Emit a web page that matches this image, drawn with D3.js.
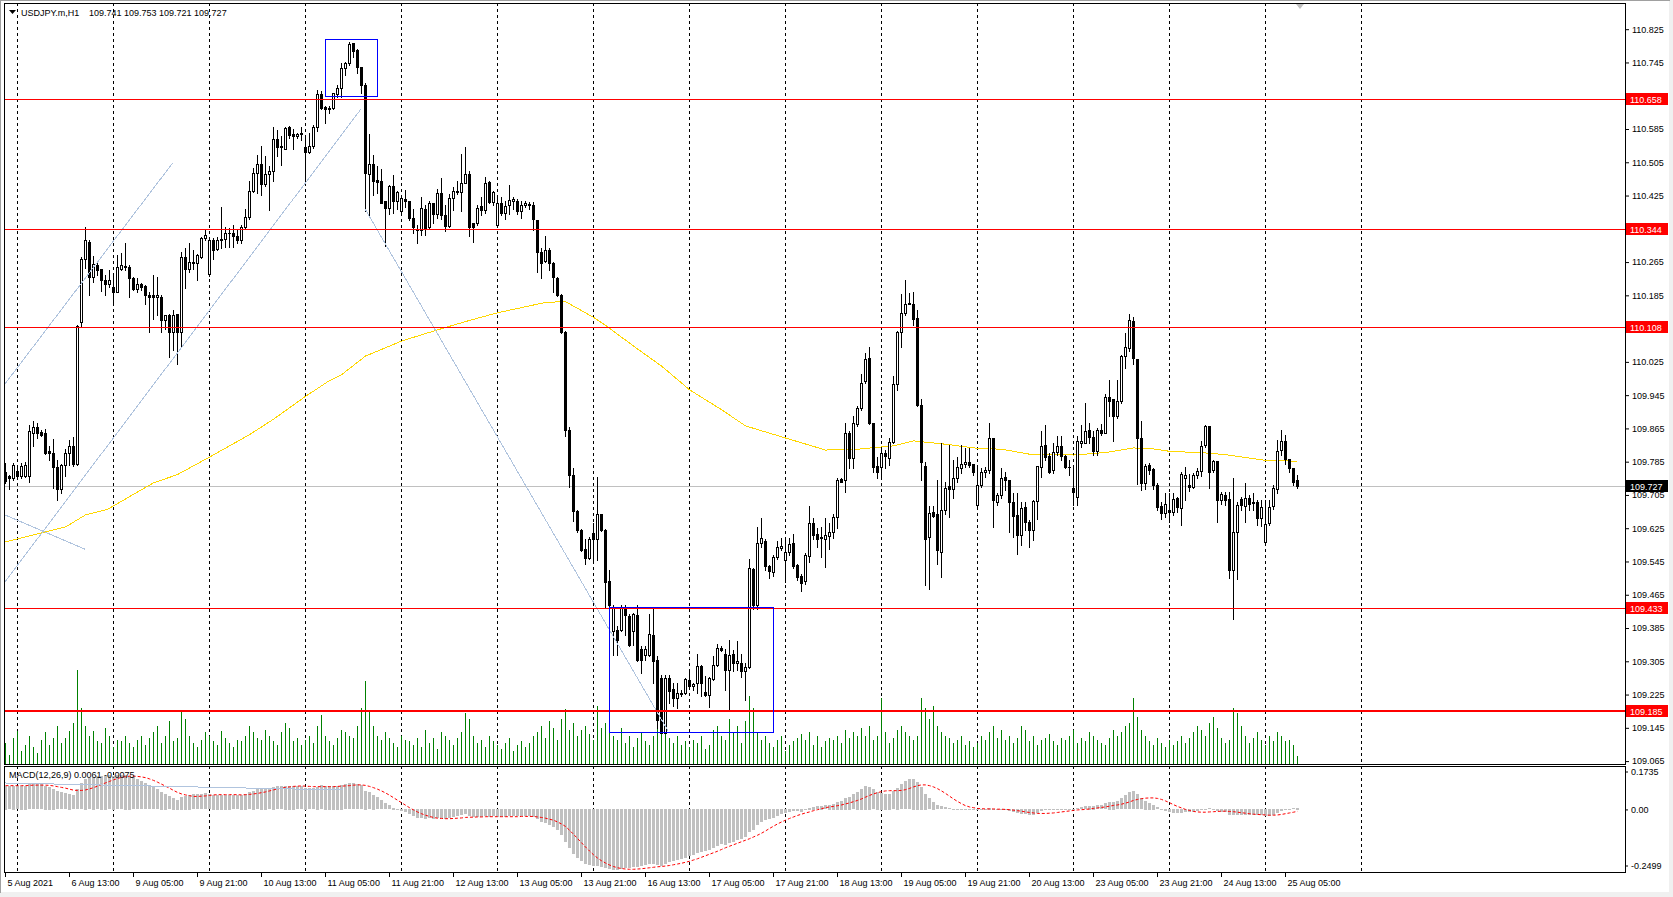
<!DOCTYPE html>
<html><head><meta charset="utf-8">
<script src="https://cdn.jsdelivr.net/npm/d3@7"></script>
<style>
html,body{margin:0;padding:0;background:#f0f0f0;}
svg{display:block;}
text{font-family:"Liberation Sans",Arial,sans-serif;font-size:9px;fill:#000;}
</style></head><body>
<svg id="c" width="1673" height="897"></svg>
<script>
// ---------------- DATA ----------------
const symbolText = "USDJPY.m,H1";
const quoteText = "109.741 109.753 109.721 109.727";
const macdText = "MACD(12,26,9) 0.0061 -0.0075";
const timeLabels = ["5 Aug 2021","6 Aug 13:00","9 Aug 05:00","9 Aug 21:00","10 Aug 13:00","11 Aug 05:00","11 Aug 21:00","12 Aug 13:00","13 Aug 05:00","13 Aug 21:00","16 Aug 13:00","17 Aug 05:00","17 Aug 21:00","18 Aug 13:00","19 Aug 05:00","19 Aug 21:00","20 Aug 13:00","23 Aug 05:00","23 Aug 21:00","24 Aug 13:00","25 Aug 05:00"];
const labelBars = [0,16,32,48,64,80,96,112,128,144,160,176,192,208,224,240,256,272,288,304,320];
const daySeparators = [3,27,51,75,99,123,147,171,195,219,243,267,291,315,339];
const priceTicks = [109.065,109.145,109.225,109.305,109.385,109.465,109.545,109.625,109.705,109.785,109.865,109.945,110.025,110.185,110.265,110.425,110.505,110.585,110.745,110.825];
const levelPrices = [110.658,110.344,110.108,109.433,109.185];
const bidPrice = 109.727;
const macdAxisValues = [0.1735,0,-0.2499];

const opens = [
109.759,109.750,109.746,109.762,109.750,109.751,109.750,109.855,109.868,109.856,
109.854,109.811,109.807,109.772,109.719,109.776,109.806,109.822,109.780,110.122,
110.272,110.314,110.229,110.258,110.248,110.222,110.213,110.206,110.194,110.248,
110.253,110.254,110.226,110.200,110.213,110.208,110.185,110.185,110.181,110.182,
110.126,110.138,110.098,110.141,110.098,110.278,110.249,110.262,110.262,110.278,
110.322,110.237,110.317,110.297,110.317,110.320,110.334,110.334,110.328,110.317,
110.350,110.373,110.435,110.480,110.500,110.453,110.476,110.483,110.560,110.544,
110.538,110.589,110.572,110.568,110.575,110.541,110.529,110.545,110.589,110.668,
110.637,110.635,110.635,110.669,110.683,110.731,110.743,110.791,110.775,110.733,
110.691,110.476,110.501,110.462,110.460,110.412,110.396,110.447,110.412,110.387,
110.417,110.412,110.371,110.345,110.341,110.393,110.349,110.408,110.381,110.431,
110.377,110.351,110.419,110.434,110.434,110.455,110.476,110.358,110.358,110.401,
110.390,110.457,110.409,110.355,110.408,110.384,110.403,110.412,110.412,110.387,
110.403,110.405,110.403,110.365,110.289,110.267,110.295,110.263,110.227,110.187,
110.096,109.861,109.752,109.667,109.621,109.576,109.553,109.614,109.600,109.659,
109.621,109.497,109.377,109.381,109.381,109.433,109.413,109.377,109.417,109.334,
109.321,109.321,109.369,109.307,109.265,109.133,109.265,109.238,109.217,109.229,
109.229,109.261,109.245,109.253,109.294,109.230,109.225,109.262,109.297,109.337,
109.323,109.285,109.323,109.301,109.301,109.281,109.291,109.527,109.440,109.589,
109.595,109.535,109.520,109.556,109.577,109.549,109.567,109.589,109.537,109.511,
109.497,109.557,109.637,109.611,109.604,109.599,109.607,109.617,109.653,109.743,
109.740,109.855,109.793,109.875,109.915,109.978,110.034,109.879,109.775,109.773,
109.805,109.793,109.833,109.972,110.098,110.143,110.163,110.164,110.130,109.922,
109.775,109.604,109.665,109.660,109.569,109.669,109.727,109.719,109.745,109.769,
109.780,109.785,109.779,109.681,109.729,109.759,109.765,109.841,109.687,109.705,
109.749,109.741,109.689,109.657,109.609,109.677,109.641,109.620,109.691,109.773,
109.826,109.799,109.764,109.809,109.823,109.799,109.773,109.721,109.701,109.831,
109.831,109.862,109.844,109.810,109.862,109.855,109.940,109.935,109.894,109.930,
110.038,110.058,110.124,110.031,109.842,109.733,109.778,109.767,109.729,109.679,
109.661,109.669,109.665,109.697,109.673,109.746,109.729,109.724,109.753,109.763,
109.824,109.870,109.764,109.787,109.694,109.705,109.695,109.524,109.617,109.695,
109.679,109.697,109.687,109.688,109.649,109.591,109.637,109.679,109.719,109.812,
109.835,109.791,109.770,109.741];
const highs = [
109.782,109.754,109.782,109.770,109.782,109.784,109.874,109.882,109.879,109.862,
109.863,109.823,109.839,109.790,109.780,109.815,109.838,109.844,110.114,110.278,
110.350,110.318,110.280,110.262,110.248,110.234,110.245,110.234,110.282,110.286,
110.310,110.258,110.230,110.226,110.214,110.210,110.194,110.233,110.230,110.186,
110.138,110.141,110.150,110.141,110.290,110.298,110.310,110.293,110.285,110.326,
110.345,110.322,110.322,110.326,110.397,110.349,110.348,110.354,110.344,110.353,
110.393,110.459,110.491,110.523,110.543,110.519,110.496,110.591,110.583,110.567,
110.591,110.592,110.585,110.575,110.591,110.565,110.575,110.595,110.679,110.677,
110.640,110.640,110.672,110.690,110.744,110.745,110.795,110.793,110.777,110.735,
110.695,110.574,110.523,110.495,110.488,110.412,110.450,110.474,110.436,110.422,
110.439,110.412,110.393,110.355,110.422,110.403,110.412,110.408,110.441,110.466,
110.403,110.428,110.446,110.460,110.526,110.542,110.484,110.360,110.403,110.422,
110.469,110.460,110.436,110.425,110.422,110.412,110.450,110.422,110.417,110.412,
110.412,110.410,110.409,110.365,110.298,110.327,110.298,110.265,110.229,110.189,
110.099,109.868,109.771,109.668,109.624,109.600,109.605,109.638,109.747,109.659,
109.624,109.524,109.441,109.390,109.441,109.441,109.419,109.421,109.441,109.341,
109.341,109.419,109.433,109.317,109.273,109.273,109.273,109.253,109.253,109.237,
109.265,109.286,109.253,109.323,109.297,109.270,109.267,109.317,109.347,109.341,
109.334,109.357,109.333,109.353,109.323,109.301,109.551,109.530,109.629,109.649,
109.600,109.537,109.560,109.595,109.601,109.605,109.601,109.611,109.540,109.515,
109.565,109.679,109.650,109.625,109.629,109.649,109.637,109.660,109.745,109.745,
109.878,109.858,109.894,109.920,109.996,110.046,110.060,109.879,109.797,109.817,
109.813,109.841,109.990,110.100,110.188,110.222,110.190,110.192,110.150,109.935,
109.785,109.679,109.679,109.741,109.829,109.737,109.825,109.789,109.797,109.825,
109.817,109.817,109.780,109.773,109.769,109.772,109.879,109.843,109.709,109.769,
109.761,109.741,109.709,109.709,109.687,109.689,109.645,109.693,109.775,109.859,
109.874,109.806,109.830,109.846,109.846,109.800,109.790,109.770,109.846,109.874,
109.926,109.878,109.858,109.866,109.876,109.948,109.982,109.935,109.982,110.042,
110.094,110.140,110.134,110.031,109.884,109.780,109.782,109.770,109.733,109.689,
109.709,109.709,109.709,109.700,109.761,109.773,109.756,109.757,109.769,109.834,
109.874,109.870,109.790,109.787,109.713,109.711,109.713,109.746,109.689,109.701,
109.733,109.705,109.709,109.693,109.693,109.693,109.693,109.729,109.838,109.862,
109.850,109.791,109.770,109.753];
const lows = [
109.734,109.719,109.742,109.746,109.746,109.747,109.735,109.822,109.842,109.846,
109.804,109.790,109.722,109.694,109.710,109.750,109.778,109.774,109.778,110.112,
110.250,110.185,110.216,110.234,110.196,110.186,110.206,110.170,110.192,110.245,
110.246,110.180,110.197,110.194,110.198,110.165,110.098,110.128,110.138,110.098,
110.104,110.036,110.054,110.020,110.062,110.202,110.242,110.249,110.221,110.274,
110.318,110.232,110.272,110.294,110.298,110.301,110.302,110.301,110.310,110.310,
110.344,110.368,110.433,110.431,110.427,110.447,110.390,110.459,110.519,110.499,
110.536,110.563,110.536,110.563,110.559,110.455,110.527,110.539,110.579,110.632,
110.600,110.623,110.632,110.663,110.663,110.715,110.739,110.759,110.719,110.671,
110.389,110.377,110.427,110.431,110.406,110.303,110.381,110.384,110.393,110.384,
110.398,110.365,110.336,110.311,110.331,110.330,110.346,110.358,110.371,110.368,
110.339,110.349,110.390,110.428,110.389,110.455,110.327,110.314,110.355,110.379,
110.384,110.408,110.403,110.352,110.379,110.369,110.381,110.393,110.381,110.371,
110.398,110.393,110.341,110.241,110.227,110.265,110.246,110.194,110.184,110.094,
109.847,109.725,109.643,109.617,109.571,109.538,109.551,109.545,109.548,109.619,
109.434,109.435,109.321,109.321,109.377,109.369,109.341,109.345,109.305,109.277,
109.309,109.317,109.253,109.145,109.133,109.133,109.205,109.197,109.193,109.221,
109.227,109.241,109.237,109.229,109.221,109.221,109.195,109.261,109.294,109.329,
109.237,109.189,109.281,109.285,109.267,109.213,109.289,109.430,109.430,109.580,
109.525,109.505,109.510,109.550,109.572,109.495,109.560,109.530,109.500,109.473,
109.490,109.543,109.600,109.580,109.556,109.531,109.575,109.601,109.625,109.735,
109.711,109.769,109.769,109.870,109.910,109.975,109.875,109.761,109.745,109.749,
109.769,109.777,109.831,109.958,110.060,110.138,110.163,110.114,109.918,109.741,
109.489,109.479,109.653,109.540,109.507,109.660,109.652,109.697,109.737,109.757,
109.773,109.773,109.753,109.677,109.725,109.749,109.757,109.627,109.681,109.697,
109.717,109.615,109.605,109.564,109.585,109.620,109.581,109.597,109.647,109.749,
109.790,109.757,109.758,109.800,109.790,109.770,109.753,109.681,109.681,109.820,
109.830,109.830,109.802,109.800,109.850,109.853,109.894,109.834,109.890,109.925,
110.010,110.050,110.020,109.732,109.716,109.720,109.755,109.720,109.670,109.647,
109.653,109.639,109.657,109.665,109.633,109.693,109.715,109.721,109.745,109.750,
109.820,109.721,109.760,109.641,109.684,109.680,109.505,109.407,109.503,109.670,
109.640,109.668,109.670,109.633,109.630,109.585,109.633,109.671,109.710,109.800,
109.780,109.760,109.730,109.721];
const closes = [
109.738,109.746,109.778,109.750,109.774,109.778,109.858,109.868,109.854,109.850,
109.807,109.807,109.772,109.719,109.776,109.806,109.823,109.780,110.112,110.272,
110.318,110.229,110.261,110.245,110.221,110.213,110.222,110.194,110.253,110.258,
110.256,110.226,110.200,110.213,110.206,110.185,110.181,110.181,110.185,110.126,
110.138,110.098,110.138,110.098,110.278,110.249,110.265,110.265,110.281,110.322,
110.330,110.317,110.294,110.317,110.320,110.334,110.336,110.328,110.318,110.350,
110.373,110.435,110.480,110.500,110.453,110.476,110.485,110.560,110.541,110.541,
110.588,110.571,110.568,110.572,110.572,110.529,110.545,110.589,110.668,110.636,
110.634,110.632,110.671,110.683,110.731,110.743,110.789,110.773,110.733,110.691,
110.479,110.501,110.460,110.458,110.408,110.396,110.447,110.412,110.434,110.420,
110.412,110.371,110.349,110.341,110.396,110.346,110.408,110.381,110.431,110.377,
110.351,110.420,110.436,110.436,110.455,110.476,110.349,110.349,110.396,110.390,
110.455,110.409,110.433,110.408,110.382,110.401,110.415,110.417,110.387,110.403,
110.406,110.403,110.369,110.289,110.263,110.295,110.263,110.229,110.187,110.096,
109.861,109.752,109.667,109.621,109.573,109.553,109.598,109.600,109.659,109.621,
109.496,109.441,109.433,109.357,109.433,109.417,109.345,109.419,109.307,109.307,
109.334,109.371,109.305,109.165,109.133,109.265,109.233,109.217,109.229,109.227,
109.262,109.245,109.250,109.294,109.253,109.225,109.265,109.297,109.337,109.333,
109.285,109.321,109.301,109.305,109.281,109.291,109.529,109.440,109.589,109.601,
109.533,109.521,109.556,109.580,109.583,109.569,109.587,109.535,109.507,109.493,
109.561,109.637,109.609,109.600,109.601,109.609,109.617,109.653,109.740,109.737,
109.855,109.793,109.879,109.915,109.975,110.031,109.879,109.773,109.761,109.807,
109.799,109.833,109.972,110.096,110.143,110.164,110.166,110.127,109.922,109.785,
109.599,109.661,109.655,109.572,109.669,109.721,109.719,109.745,109.772,109.780,
109.785,109.777,109.759,109.729,109.759,109.765,109.841,109.693,109.705,109.746,
109.740,109.689,109.655,109.609,109.673,109.641,109.620,109.691,109.775,109.823,
109.796,109.761,109.809,109.823,109.799,109.772,109.772,109.711,109.834,109.835,
109.858,109.844,109.810,109.860,109.855,109.940,109.932,109.894,109.930,110.039,
110.060,110.126,110.034,109.842,109.733,109.775,109.764,109.728,109.677,109.661,
109.684,109.664,109.695,109.676,109.756,109.753,109.724,109.753,109.763,109.823,
109.871,109.761,109.787,109.692,109.708,109.692,109.524,109.616,109.681,109.681,
109.697,109.684,109.685,109.649,109.676,109.636,109.677,109.721,109.811,109.835,
109.791,109.770,109.737,109.727];

const volumes = [
22,10,28,35,14,20,30,18,12,26, 34,20,28,40,22,28,35,44,100,60,
40,30,35,25,22,38,30,18,26,24, 30,22,18,26,30,20,28,34,40,22,
30,46,24,28,55,48,30,22,18,26, 34,30,25,20,35,28,22,18,26,24,
30,40,34,28,26,36,30,24,20,34, 44,38,24,28,20,26,30,22,40,52,
30,24,20,28,36,34,30,28,40,60, 88,55,40,30,26,34,28,22,18,30,
26,24,20,28,18,36,22,28,16,34, 30,26,20,28,34,54,48,30,22,26,
18,30,24,20,16,22,28,14,20,24, 18,22,30,34,40,28,46,38,26,48,
58,36,44,30,36,40,32,26,62,38, 44,40,30,26,38,22,30,18,28,34,
24,20,30,52,70,40,28,22,30,20, 24,18,26,22,30,16,20,36,40,30,
26,48,34,40,22,46,72,60,34,26, 30,22,18,26,30,14,20,24,28,32,
26,34,20,30,18,24,28,26,30,22, 36,28,34,30,38,30,40,26,30,70,
34,22,28,36,40,34,30,26,30,70, 60,48,62,40,34,30,28,22,26,30,
20,24,18,22,30,26,34,40,28,36, 26,30,22,28,40,36,24,30,20,26,
28,32,24,20,28,26,30,36,22,28, 24,34,30,26,22,20,28,36,30,34,
40,44,70,50,36,30,24,20,28,22, 18,26,20,24,30,22,28,34,40,36,
30,44,50,38,28,22,26,60,54,40, 30,22,28,34,26,20,30,24,34,30,
24,26,20,8];

const macdMain = [
.094,.093,.094,.093,.094,.095,.100,.104,.104,.101,
.095,.090,.083,.073,.068,.065,.062,.057,.080,.105,
.122,.125,.130,.133,.134,.135,.136,.134,.136,.137,
.138,.134,.128,.120,.112,.104,.096,.088,.080,.070,
.062,.052,.046,.038,.050,.055,.058,.060,.060,.061,
.064,.060,.058,.058,.058,.058,.058,.057,.056,.058,
.062,.068,.074,.080,.082,.083,.084,.090,.092,.093,
.095,.095,.094,.093,.092,.086,.084,.085,.090,.096,
.095,.094,.094,.095,.098,.100,.104,.104,.101,.096,
.075,.068,.058,.048,.036,.024,.016,.007,.000,-.006,
-.012,-.020,-.028,-.034,-.034,-.038,-.036,-.038,-.034,-.036,
-.040,-.036,-.032,-.029,-.025,-.020,-.028,-.032,-.032,-.032,
-.028,-.030,-.028,-.030,-.031,-.030,-.028,-.027,-.028,-.027,
-.027,-.027,-.030,-.040,-.050,-.055,-.062,-.072,-.085,-.102,
-.130,-.155,-.178,-.195,-.208,-.218,-.225,-.228,-.228,-.230,
-.236,-.240,-.242,-.243,-.240,-.237,-.234,-.230,-.230,-.228,
-.225,-.220,-.218,-.222,-.226,-.218,-.213,-.208,-.204,-.199,
-.194,-.189,-.183,-.176,-.171,-.167,-.162,-.155,-.147,-.140,
-.142,-.135,-.130,-.124,-.118,-.112,-.090,-.082,-.065,-.050,
-.045,-.040,-.034,-.027,-.020,-.015,-.010,-.008,-.008,-.010,
-.004,.006,.010,.012,.014,.016,.018,.022,.030,.034,
.046,.050,.060,.070,.082,.094,.090,.080,.070,.066,
.062,.062,.072,.086,.100,.112,.120,.122,.110,.090,
.062,.045,.030,.016,.012,.008,.004,.002,.002,.002,
.002,.002,.000,-.002,.000,.000,.006,.000,-.004,-.004,
-.004,-.008,-.012,-.016,-.018,-.020,-.022,-.022,-.016,-.008,
-.002,-.002,.000,.002,.002,.000,-.002,-.004,.004,.008,
.012,.014,.014,.016,.016,.024,.030,.030,.032,.044,
.056,.068,.072,.060,.045,.034,.026,.018,.008,-.002,
-.008,-.012,-.014,-.016,-.016,-.012,-.012,-.010,-.008,-.004,
.002,.004,.000,-.006,-.010,-.012,-.022,-.024,-.022,-.022,
-.022,-.022,-.022,-.024,-.024,-.028,-.026,-.022,-.014,-.006,
.000,.002,.004,.0061];

const macdSignal = [
.095,.095,.095,.095,.095,.095,.096,.097,.097,.097,
.097,.096,.094,.091,.088,.085,.081,.077,.076,.076,
.078,.082,.087,.093,.100,.106,.112,.118,.124,.128,
.131,.133,.133,.132,.130,.127,.122,.116,.109,.101,
.093,.085,.076,.068,.062,.058,.055,.052,.052,.053,
.054,.056,.058,.059,.059,.059,.059,.059,.059,.058,
.059,.060,.062,.064,.067,.070,.074,.078,.082,.085,
.088,.090,.092,.093,.094,.093,.092,.091,.091,.091,
.091,.091,.091,.092,.093,.094,.095,.097,.098,.098,
.096,.092,.087,.081,.074,.066,.057,.047,.037,.027,
.017,.007,-.002,-.010,-.017,-.023,-.028,-.032,-.035,-.036,
-.037,-.037,-.036,-.035,-.034,-.032,-.031,-.031,-.030,-.030,
-.029,-.029,-.029,-.029,-.029,-.029,-.029,-.029,-.029,-.028,
-.028,-.028,-.028,-.030,-.032,-.035,-.039,-.043,-.050,-.058,
-.068,-.083,-.099,-.116,-.133,-.150,-.166,-.181,-.194,-.205,
-.214,-.222,-.228,-.233,-.236,-.238,-.239,-.239,-.238,-.237,
-.235,-.233,-.231,-.229,-.228,-.226,-.224,-.221,-.218,-.215,
-.211,-.207,-.202,-.197,-.191,-.185,-.179,-.173,-.167,-.160,
-.153,-.147,-.141,-.135,-.129,-.123,-.117,-.110,-.103,-.095,
-.086,-.076,-.067,-.058,-.050,-.043,-.036,-.030,-.024,-.019,
-.014,-.010,-.005,-.001,.003,.007,.010,.012,.015,.018,
.022,.026,.031,.036,.042,.049,.056,.062,.067,.071,
.074,.075,.075,.075,.076,.079,.084,.090,.095,.098,
.098,.095,.090,.083,.074,.064,.053,.042,.032,.023,
.015,.010,.007,.004,.003,.002,.002,.002,.001,.001,
.000,-.001,-.003,-.005,-.007,-.010,-.012,-.014,-.016,-.016,
-.016,-.015,-.014,-.012,-.010,-.008,-.006,-.004,-.002,-.001,
.000,.002,.004,.006,.008,.010,.013,.016,.018,.021,
.025,.030,.036,.040,.043,.045,.046,.046,.044,.040,
.034,.027,.019,.012,.006,.000,-.004,-.008,-.010,-.011,
-.011,-.010,-.009,-.008,-.007,-.007,-.008,-.009,-.011,-.013,
-.015,-.017,-.019,-.020,-.021,-.022,-.023,-.023,-.022,-.020,
-.017,-.014,-.011,-.0075];

// Moving average read at points (bar index, price)
const maBars  = [0,15,20,25.4,37,43,51,61,67,75,81,84,90,99,107,115,123,135,140,147,150,158,164,171,179,185,195,205,213,222,227,235,243,249,256,267,275,282,286,291,300,305,315,323];
const maPrices= [109.592,109.628,109.657,109.670,109.734,109.754,109.796,109.850,109.887,109.942,109.980,109.994,110.039,110.075,110.099,110.122,110.143,110.168,110.170,110.132,110.113,110.056,110.015,109.958,109.910,109.871,109.842,109.813,109.815,109.823,109.835,109.827,109.817,109.815,109.803,109.801,109.807,109.818,109.817,109.810,109.806,109.802,109.788,109.786];

// trend lines in (bar index, price)
const trendStart = [[0,109.972],[0,109.496],[0,109.657],[90,110.393]];
const trendEnd   = [[41.9,110.503],[89,110.633],[20.1,109.574],[165.75,109.138]];
// trend line in MACD window (bar index, value)
const macdTrendStart = [0,0.1056];
const macdTrendEnd = [84.5,0.0776];
// rectangles (bar1, price1, bar2, price2)
const boxes = [[80,110.801,93,110.664],[151,109.435,192,109.135]];

// ---------------- DRAW ----------------
const svg = d3.select('#c');
const L = 4, R = 1625, mT = 3, mB = 764, dT = 766, dB = 872;
const x = d3.scaleLinear().domain([0,405]).range([5,1625]);
const y = d3.scaleLinear().domain([109.058,110.888]).range([mB,mT]);
const yv = d3.scaleLinear().domain([0,100]).range([mB,670]);
const ym = d3.scaleLinear().domain([-0.2499,0.1735]).range([dB,dT]);

svg.append('rect').attr('width',1673).attr('height',897).attr('fill','#f0f0f0');
svg.append('rect').attr('x',1).attr('y',1).attr('width',1668).attr('height',891).attr('fill','#fff');
svg.append('line').attr('x1',0).attr('x2',1670).attr('y1',0.5).attr('y2',0.5).attr('stroke','#a0a0a0');
svg.append('line').attr('x1',0.5).attr('x2',0.5).attr('y1',0).attr('y2',893).attr('stroke','#a0a0a0');

const defs = svg.append('defs');
defs.append('clipPath').attr('id','cm').append('rect').attr('x',L+1).attr('y',mT+1).attr('width',R-L-1).attr('height',mB-mT-1);
defs.append('clipPath').attr('id','cd').append('rect').attr('x',L+1).attr('y',dT+1).attr('width',R-L-1).attr('height',dB-dT-1);

const gm = svg.append('g').attr('clip-path','url(#cm)').attr('shape-rendering','crispEdges');
const gd = svg.append('g').attr('clip-path','url(#cd)').attr('shape-rendering','crispEdges');

// grid (day separators)
[[gm,mT,mB],[gd,dT,dB]].forEach(([g,t,b])=>{
  g.selectAll(null).data(daySeparators).enter().append('line')
   .attr('x1',d=>Math.round(x(d))+0.5).attr('x2',d=>Math.round(x(d))+0.5)
   .attr('y1',t).attr('y2',b).attr('stroke','#000').attr('stroke-dasharray','3,3');
});

// bid line
gm.append('line').attr('x1',L).attr('x2',R).attr('y1',Math.round(y(bidPrice))+0.5).attr('y2',Math.round(y(bidPrice))+0.5).attr('stroke','#c0c0c0');

// moving average
const maPts = maBars.map((b,i)=>[b,maPrices[i]]);
gm.append('path').datum(maPts).attr('fill','none').attr('stroke','#ffd700').attr('stroke-width',1)
  .attr('d', d3.line().x(d=>x(d[0])+0.5).y(d=>y(d[1])));

// volumes
gm.selectAll(null).data(volumes).enter().append('line')
  .attr('x1',(d,i)=>Math.round(x(i))+0.5).attr('x2',(d,i)=>Math.round(x(i))+0.5)
  .attr('y1',mB).attr('y2',d=>Math.round(yv(d))).attr('stroke','#008000');

// candles
const idx = d3.range(opens.length);
gm.selectAll(null).data(idx).enter().append('line')
  .attr('x1',i=>Math.round(x(i))+0.5).attr('x2',i=>Math.round(x(i))+0.5)
  .attr('y1',i=>Math.round(y(highs[i]))).attr('y2',i=>Math.round(y(lows[i]))+1)
  .attr('stroke','#000');
idx.forEach(i=>{
  const cx = Math.round(x(i));
  const yo = Math.round(y(opens[i])), yc = Math.round(y(closes[i]));
  const top = Math.min(yo,yc), bot = Math.max(yo,yc);
  if (closes[i] >= opens[i]) {
    if (bot - top < 2) {
      gm.append('rect').attr('x',cx-1).attr('y',top).attr('width',3).attr('height',Math.max(1,bot-top+1)).attr('fill','#000');
    } else {
      gm.append('rect').attr('x',cx-0.5).attr('y',top+0.5).attr('width',2).attr('height',bot-top)
        .attr('fill','#fff').attr('stroke','#000');
    }
  } else {
    gm.append('rect').attr('x',cx-1).attr('y',top).attr('width',3).attr('height',Math.max(1,bot-top+1)).attr('fill','#000');
  }
});

// trend lines
trendStart.forEach((s,k)=>{
  const e = trendEnd[k];
  gm.append('line').attr('x1',x(s[0])).attr('y1',y(s[1])).attr('x2',x(e[0])).attr('y2',y(e[1]))
    .attr('stroke','#b0c4de').attr('stroke-width',1);
});

// horizontal levels
levelPrices.forEach(p=>{
  const w = p===109.185 ? 2 : 1;
  const yy = Math.round(y(p)) + (w===1?0.5:0);
  gm.append('line').attr('x1',L).attr('x2',R).attr('y1',yy).attr('y2',yy).attr('stroke','#ff0000').attr('stroke-width',w);
});

// rectangles
boxes.forEach(b=>{
  const x1=Math.round(x(b[0]))+0.5, x2=Math.round(x(b[2]))+0.5;
  const y1=Math.round(y(b[1]))+0.5, y2=Math.round(y(b[3]))+0.5;
  gm.append('rect').attr('x',x1).attr('y',y1).attr('width',x2-x1).attr('height',y2-y1)
    .attr('fill','none').attr('stroke','#0000ff');
});

// MACD histogram
gd.selectAll(null).data(macdMain).enter().append('rect')
  .attr('x',(d,i)=>Math.round(x(i))-1).attr('width',3)
  .attr('y',d=>Math.round(Math.min(ym(d),ym(0))))
  .attr('height',d=>Math.max(1,Math.round(Math.abs(ym(d)-ym(0)))))
  .attr('fill','#c0c0c0');
gd.append('path').datum(macdSignal).attr('fill','none').attr('stroke','#ff0000').attr('stroke-dasharray','3,2')
  .attr('shape-rendering','auto')
  .attr('d', d3.line().x((d,i)=>x(i)+0.5).y(d=>ym(d)));
gd.append('line').attr('x1',x(macdTrendStart[0])).attr('y1',ym(macdTrendStart[1]))
  .attr('x2',x(macdTrendEnd[0])).attr('y2',ym(macdTrendEnd[1])).attr('stroke','#b0c4de');

// panel borders
svg.append('rect').attr('x',L+0.5).attr('y',mT+0.5).attr('width',R-L).attr('height',mB-mT).attr('fill','none').attr('stroke','#000').attr('shape-rendering','crispEdges');
svg.append('rect').attr('x',L+0.5).attr('y',dT+0.5).attr('width',R-L).attr('height',dB-dT).attr('fill','none').attr('stroke','#000').attr('shape-rendering','crispEdges');

// price axis
const pa = svg.append('g').attr('transform',`translate(${R},0)`)
  .call(d3.axisRight(y).tickValues(priceTicks).tickSize(4).tickPadding(3).tickFormat(d3.format('.3f')));
pa.select('.domain').remove();
pa.selectAll('line').attr('stroke','#000');
pa.selectAll('text').attr('font-size',9).attr('font-family','"Liberation Sans",Arial,sans-serif').attr('fill','#000');

// level labels
levelPrices.forEach(p=>{
  const yy = Math.round(y(p));
  svg.append('rect').attr('x',R+1).attr('y',yy-6).attr('width',42).attr('height',12).attr('fill','#ff0000');
  svg.append('text').attr('x',R+5).attr('y',yy+3.5).text(d3.format('.3f')(p)).style('fill','#fff');
});
{
  const yy = Math.round(y(bidPrice));
  svg.append('rect').attr('x',R+1).attr('y',yy-6).attr('width',42).attr('height',12).attr('fill','#000');
  svg.append('text').attr('x',R+5).attr('y',yy+3.5).text(d3.format('.3f')(bidPrice)).style('fill','#fff');
}

// MACD axis
const ma = svg.append('g').attr('transform',`translate(${R},0)`)
  .call(d3.axisRight(ym).tickValues(macdAxisValues).tickSize(3).tickPadding(3).tickFormat(d=>d===0?'0.00':String(d)));
ma.select('.domain').remove();
ma.selectAll('line').attr('stroke','#000');
ma.selectAll('text').attr('font-size',9).attr('font-family','"Liberation Sans",Arial,sans-serif').attr('fill','#000');
ma.selectAll('.tick').attr('transform',d=>`translate(0,${d===0.1735?ym(d)+6:d===-0.2499?ym(d)-6:ym(d)+0.5})`);

// time axis
const ta = svg.append('g').attr('transform',`translate(0,${dB})`)
  .call(d3.axisBottom(x).tickValues(labelBars).tickSize(5).tickPadding(3).tickFormat((d,i)=>timeLabels[i]));
ta.select('.domain').remove();
ta.selectAll('line').attr('stroke','#000');
ta.selectAll('text').attr('text-anchor','start').attr('x',2).attr('font-size',9)
  .attr('font-family','"Liberation Sans",Arial,sans-serif').attr('fill','#000');

// header
svg.append('path').attr('d','M9,10 L16,10 L12.5,14 Z').attr('fill','#000');
svg.append('text').attr('x',21).attr('y',16).text(symbolText);
svg.append('text').attr('x',89).attr('y',16).text(quoteText);
svg.append('text').attr('x',9).attr('y',778).text(macdText);
// chart shift marker
svg.append('path').attr('d','M1296,4 L1304,4 L1300,9 Z').attr('fill','#c0c0c0');
</script>
</body></html>
